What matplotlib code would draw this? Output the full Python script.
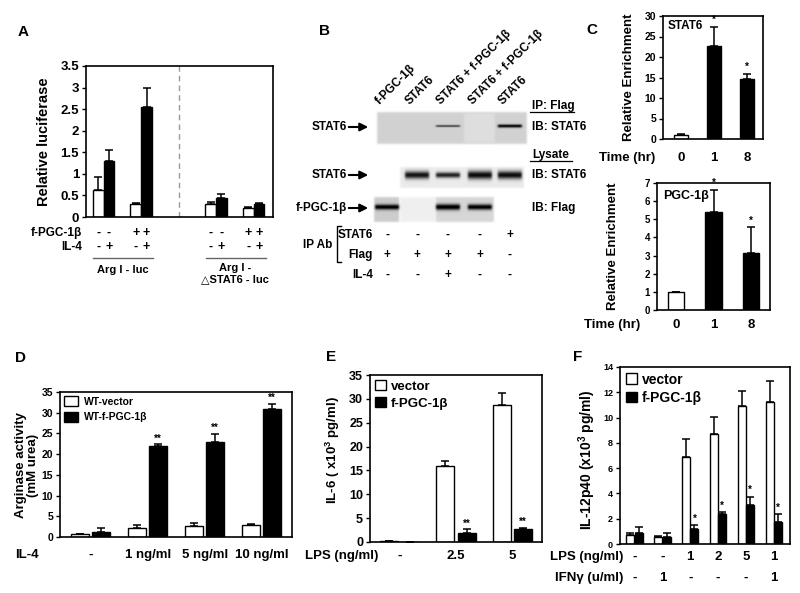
import numpy as np
import matplotlib
matplotlib.use('Agg')
import matplotlib.pyplot as plt
from matplotlib.patches import Patch
from matplotlib.transforms import blended_transform_factory as blend

plt.rcParams['font.family'] = ['Liberation Sans', 'DejaVu Sans']
plt.rcParams['font.weight'] = 'bold'
plt.rcParams['axes.linewidth'] = 1.2
plt.rcParams['mathtext.fontset'] = 'custom'
plt.rcParams['mathtext.rm'] = 'Liberation Sans:bold'
plt.rcParams['mathtext.default'] = 'rm'

W, H = 800, 593

# ---------------- data ----------------
# A: luciferase
a_pos = [0, 1, 3, 4]
a_white = [0.63, 0.31, 0.31, 0.21]
a_white_err = [0.30, 0.02, 0.04, 0.02]
a_black = [1.30, 2.55, 0.43, 0.30]
a_black_err = [0.26, 0.43, 0.11, 0.02]
a_pgc_signs = ['-', '-', '+', '+', '-', '-', '+', '+']
a_il4_signs = ['-', '+', '-', '+', '-', '+', '-', '+']
a_yticks = [0, 0.5, 1, 1.5, 2, 2.5, 3, 3.5]
a_yticklabels = ['0', '0.5', '1', '1.5', '2', '2.5', '3', '3.5']

# B: co-IP blots
b_lanes = ['f-PGC-1β', 'STAT6', 'STAT6 + f-PGC-1β', 'STAT6 + f-PGC-1β', 'STAT6']
b_ipab_stat6 = ['-', '-', '-', '-', '+']
b_ipab_flag = ['+', '+', '+', '+', '-']
b_il4 = ['-', '-', '+', '-', '-']
# (lane, darkness, thickness)
ip_bands = [(2, 0.60, 1.0), (4, 0.85, 1.6)]
lysate_bands = [(1, 0.85, 3.8), (2, 0.80, 2.8), (3, 0.88, 4.2), (4, 0.88, 4.0)]
flag_bands = [(0, 0.85, 2.6), (2, 0.90, 3.0), (3, 0.88, 2.8)]

# C: ChIP
c_time = ['0', '1', '8']
c_stat6 = [1.0, 22.8, 14.6]
c_stat6_err = [0.2, 4.6, 1.2]
c_pgc = [1.0, 5.38, 3.13]
c_pgc_err = [0.0, 1.25, 1.42]
c_colors = ['white', 'black', 'black']

# D: arginase
d_labels = ['-', '1 ng/ml', '5 ng/ml', '10 ng/ml']
d_vector = [0.64, 2.25, 2.57, 2.98]
d_vector_err = [0.1, 0.55, 0.8, 0.2]
d_pgc = [1.13, 21.96, 22.9, 31.0]
d_pgc_err = [1.1, 0.4, 2.0, 1.2]
d_stars = ['', '**', '**', '**']

# E: IL-6
e_labels = ['-', '2.5', '5']
e_vector = [0.2, 15.96, 28.7]
e_vector_err = [0.0, 1.05, 2.6]
e_pgc = [0.0, 1.96, 2.8]
e_pgc_err = [0.0, 0.7, 0.2]
e_stars = ['', '**', '**']

# F: IL-12p40
f_lps = ['-', '-', '1', '2', '5', '1']
f_ifn = ['-', '1', '-', '-', '-', '1']
f_vector = [0.71, 0.58, 6.92, 8.72, 10.93, 11.2]
f_vector_err = [0.14, 0.05, 1.4, 1.3, 1.15, 1.7]
f_pgc = [0.85, 0.58, 1.16, 2.4, 3.09, 1.77]
f_pgc_err = [0.5, 0.32, 0.35, 0.1, 0.66, 0.6]
f_stars = ['', '', '*', '*', '*', '*']

# ---------------- figure ----------------
fig = plt.figure(figsize=(W / 100, H / 100), dpi=100)
ov = fig.add_axes([0, 0, 1, 1], zorder=5)
ov.axis('off')
ov.set_autoscale_on(False)


def px_axes(x0, y0, x1, y1):
    return fig.add_axes([x0 / W, 1 - y1 / H, (x1 - x0) / W, (y1 - y0) / H])


def bars(ax, x, vals, errs, color, width):
    ax.bar(x, vals, width, color=color, edgecolor='black', linewidth=1.0, zorder=2)
    ax.errorbar(x, vals, yerr=[np.zeros(len(vals)), errs], fmt='none', ecolor='black',
                elinewidth=1.1, capsize=3.2, capthick=1.1, zorder=1)


def style(ax, size):
    ax.set_xticks([])
    ax.tick_params(axis='y', direction='out', length=3, width=1, pad=2, labelsize=size)
    for s in ax.spines.values():
        s.set_color('black')


def panel_letter(x, y, t):
    ov.text(x, y, t, fontsize=11, ha='left', va='center')


# ---- A ----
axA = px_axes(86, 66, 273, 217)
wA = 0.29
xw = [p - wA / 2 for p in a_pos]
xb = [p + wA / 2 for p in a_pos]
bars(axA, xw, a_white, a_white_err, 'white', wA)
bars(axA, xb, a_black, a_black_err, 'black', wA)
axA.axvline(2, color='#999999', ls=(0, (4, 3)), lw=1)
axA.set_xlim(-0.47, 4.52)
axA.set_ylim(0, 3.5)
axA.set_yticks(a_yticks, a_yticklabels)
style(axA, 9.5)
trA = blend(axA.transData, ov.transData)
bar_x = [v for pair in zip(xw, xb) for v in pair]
for x, s1, s2 in zip(bar_x, a_pgc_signs, a_il4_signs):
    ov.text(x, 233, s1, transform=trA, ha='center', va='center', fontsize=9)
    ov.text(x, 247, s2, transform=trA, ha='center', va='center', fontsize=9)
ov.text(82, 233, 'f-PGC-1β', ha='right', va='center', fontsize=8.5)
ov.text(82, 247, 'IL-4', ha='right', va='center', fontsize=8.5)
ov.plot([-0.28, 1.32], [258, 258], transform=trA, color='#666666', lw=1)
ov.plot([2.72, 4.32], [258, 258], transform=trA, color='#666666', lw=1)
ov.text(0.5, 270, 'Arg I - luc', transform=trA, ha='center', va='center', fontsize=8)
ov.text(3.5, 263, 'Arg I -\n△STAT6 - luc', transform=trA, ha='center', va='top',
        fontsize=8, linespacing=1.2)
ov.text(44, 142, 'Relative luciferase', rotation=90, ha='center', va='center', fontsize=10.5)
panel_letter(18, 32, 'A')

# ---- B ----
panel_letter(319, 31, 'B')
lane_x = [387, 417, 448, 480, 510]
for x, t in zip(lane_x, b_lanes):
    ov.text(x - 5, 107, t, rotation=45, rotation_mode='anchor', ha='left', va='bottom',
            fontsize=8.5)


def blot(x0, x1, y0, y1, backgrounds, bands, yc):
    res = 3
    xs = np.linspace(x0, x1, int((x1 - x0) * res))
    ys = np.linspace(y0, y1, int((y1 - y0) * res))
    X, Y = np.meshgrid(xs, ys)
    img = np.ones_like(X)
    for bx0, bx1, by0, by1, lev in backgrounds:
        m = (0.25 * (np.tanh(X - bx0) - np.tanh(X - bx1)) * (np.tanh(Y - by0) - np.tanh(Y - by1)))
        img = lev * m + img * (1 - m)
    for lane, dark, thick in bands:
        xc = lane_x[lane]
        px = 0.5 * (np.tanh((X - (xc - 12)) / 1.2) - np.tanh((X - (xc + 12)) / 1.2))
        py = np.exp(-((Y - yc) / thick) ** 2)
        img -= dark * px * py
    ov.imshow(np.clip(img, 0, 1), cmap='gray', vmin=0, vmax=1, extent=(x0, x1, y1, y0),
              aspect='auto', interpolation='bilinear', zorder=1)


blot(374, 530, 110, 146, [(377, 527, 112, 144, 0.82), (464, 495, 113, 143, 0.87)], ip_bands, 126)
blot(374, 530, 164, 190, [(400, 524, 167, 188, 0.92)], lysate_bands, 175)
blot(370, 500, 194, 225, [(374, 399, 197, 222, 0.8), (400, 436, 197, 222, 0.94),
                          (436, 494, 197, 222, 0.84)], flag_bands, 207)

for y, t in [(127, 'STAT6'), (175, 'STAT6'), (208, 'f-PGC-1β')]:
    ov.text(347, y, t, ha='right', va='center', fontsize=8.5)
    ov.annotate('', xy=(371, y), xytext=(346, y),
                arrowprops=dict(arrowstyle='-|>', lw=1.5, color='black', mutation_scale=12))

ov.text(532, 106, 'IP: Flag', ha='left', va='center', fontsize=8.5)
ov.plot([530, 574], [112, 112], color='black', lw=0.9)
ov.text(532, 127, 'IB: STAT6', ha='left', va='center', fontsize=8.5)
ov.text(532, 155, 'Lysate', ha='left', va='center', fontsize=8.5)
ov.plot([530, 572], [161, 161], color='black', lw=0.9)
ov.text(532, 175, 'IB: STAT6', ha='left', va='center', fontsize=8.5)
ov.text(532, 208, 'IB: Flag', ha='left', va='center', fontsize=8.5)

for x, s1, s2, s3 in zip(lane_x, b_ipab_stat6, b_ipab_flag, b_il4):
    ov.text(x, 235, s1, ha='center', va='center', fontsize=8.5)
    ov.text(x, 255, s2, ha='center', va='center', fontsize=8.5)
    ov.text(x, 275, s3, ha='center', va='center', fontsize=8.5)
ov.text(373, 235, 'STAT6', ha='right', va='center', fontsize=8.5)
ov.text(373, 255, 'Flag', ha='right', va='center', fontsize=8.5)
ov.text(373, 275, 'IL-4', ha='right', va='center', fontsize=8.5)
ov.text(318, 245, 'IP Ab', ha='center', va='center', fontsize=8.5)
ov.plot([341, 337, 337, 341], [226, 226, 262, 262], color='black', lw=1)

# ---- C ----
panel_letter(586, 30, 'C')
axC1 = px_axes(663, 16, 763, 139)
bars(axC1, [0, 1, 2], c_stat6, c_stat6_err, c_colors, 0.42)
axC1.set_xlim(-0.55, 2.48)
axC1.set_ylim(0, 30)
axC1.set_yticks(range(0, 31, 5))
style(axC1, 7.5)
axC1.text(0.05, 0.92, 'STAT6', transform=axC1.transAxes, fontsize=8.5, ha='left', va='center')
for i in [1, 2]:
    axC1.text(i, c_stat6[i] + c_stat6_err[i] + 0.5, '*', ha='center', va='bottom', fontsize=7)
trC1 = blend(axC1.transData, ov.transData)
for i, t in enumerate(c_time):
    ov.text(i, 158, t, transform=trC1, ha='center', va='center', fontsize=9.5)
ov.text(655, 158, 'Time (hr)', ha='right', va='center', fontsize=9.5)
ov.text(629, 77, 'Relative Enrichment', rotation=90, ha='center', va='center', fontsize=9.5)

axC2 = px_axes(657, 183, 770, 310)
bars(axC2, [0, 1, 2], c_pgc, c_pgc_err, c_colors, 0.43)
axC2.set_xlim(-0.51, 2.51)
axC2.set_ylim(0, 7)
axC2.set_yticks(range(0, 8))
style(axC2, 7)
axC2.text(0.05, 0.9, 'PGC-1β', transform=axC2.transAxes, fontsize=9, ha='left', va='center')
for i in [1, 2]:
    axC2.text(i, c_pgc[i] + c_pgc_err[i] + 0.1, '*', ha='center', va='bottom', fontsize=7)
trC2 = blend(axC2.transData, ov.transData)
for i, t in enumerate(c_time):
    ov.text(i, 325, t, transform=trC2, ha='center', va='center', fontsize=9.5)
ov.text(640, 325, 'Time (hr)', ha='right', va='center', fontsize=9.5)
ov.text(613, 246, 'Relative Enrichment', rotation=90, ha='center', va='center', fontsize=9.5)

# ---- D ----
panel_letter(15, 358, 'D')
axD = px_axes(60, 392, 292, 537)
xD = np.arange(len(d_labels))
bars(axD, xD - 0.19, d_vector, d_vector_err, 'white', 0.32)
bars(axD, xD + 0.18, d_pgc, d_pgc_err, 'black', 0.32)
for i, s in enumerate(d_stars):
    if s:
        axD.text(i + 0.18, d_pgc[i] + d_pgc_err[i] + 0.2, s, ha='center', va='bottom', fontsize=7)
axD.set_xlim(-0.54, 3.53)
axD.set_ylim(0, 35)
axD.set_yticks(range(0, 36, 5))
style(axD, 7.5)
axD.legend([Patch(facecolor='white', edgecolor='black'), Patch(facecolor='black', edgecolor='black')],
           ['WT-vector', 'WT-f-PGC-1β'], loc='upper left', frameon=False, fontsize=7.5,
           handlelength=1.3, handleheight=1.1, handletextpad=0.6, labelspacing=0.5,
           borderaxespad=0.2, borderpad=0.2)
trD = blend(axD.transData, ov.transData)
for i, t in enumerate(d_labels):
    ov.text(i, 555, t, transform=trD, ha='center', va='center', fontsize=9.5)
ov.text(15, 555, 'IL-4', ha='left', va='center', fontsize=9.5)
ov.text(27, 465, 'Arginase activity\n(mM urea)', rotation=90, ha='center', va='center',
        fontsize=9.5, multialignment='center', linespacing=1.1)

# ---- E ----
panel_letter(326, 357, 'E')
axE = px_axes(370, 375, 542, 542)
xE = np.arange(len(e_labels))
bars(axE, xE - 0.19, e_vector, e_vector_err, 'white', 0.32)
bars(axE, xE + 0.19, e_pgc, e_pgc_err, 'black', 0.32)
for i, s in enumerate(e_stars):
    if s:
        axE.text(i + 0.19, e_pgc[i] + e_pgc_err[i] + 0.2, s, ha='center', va='bottom', fontsize=7)
axE.set_xlim(-0.53, 2.53)
axE.set_ylim(0, 35)
axE.set_yticks(range(0, 36, 5))
style(axE, 9)
axE.legend([Patch(facecolor='white', edgecolor='black'), Patch(facecolor='black', edgecolor='black')],
           ['vector', 'f-PGC-1β'], loc='upper left', frameon=False, fontsize=9.5,
           handlelength=0.8, handleheight=0.8, handletextpad=0.4, labelspacing=0.3,
           borderaxespad=0.2, borderpad=0.2)
trE = blend(axE.transData, ov.transData)
for i, t in enumerate(e_labels):
    ov.text(i, 556, t, transform=trE, ha='center', va='center', fontsize=9.5)
ov.text(305, 556, 'LPS (ng/ml)', ha='left', va='center', fontsize=9.5)
ov.text(333, 450, 'IL-6 ( x10$^{3}$ pg/ml)', rotation=90, ha='center', va='center', fontsize=9.5)

# ---- F ----
panel_letter(573, 357, 'F')
axF = px_axes(620, 367, 790, 544)
xF = np.arange(len(f_lps))
bars(axF, xF - 0.15, f_vector, f_vector_err, 'white', 0.29)
bars(axF, xF + 0.15, f_pgc, f_pgc_err, 'black', 0.29)
for i, s in enumerate(f_stars):
    if s:
        axF.text(i + 0.15, f_pgc[i] + f_pgc_err[i] + 0.1, s, ha='center', va='bottom', fontsize=7)
axF.set_xlim(-0.52, 5.58)
axF.set_ylim(0, 14)
axF.set_yticks(range(0, 15, 2))
style(axF, 6.5)
axF.legend([Patch(facecolor='white', edgecolor='black'), Patch(facecolor='black', edgecolor='black')],
           ['vector', 'f-PGC-1β'], loc='upper left', frameon=False, fontsize=10,
           handlelength=0.8, handleheight=0.8, handletextpad=0.4, labelspacing=0.3,
           borderaxespad=0.1, borderpad=0.3)
trF = blend(axF.transData, ov.transData)
for i, (s1, s2) in enumerate(zip(f_lps, f_ifn)):
    ov.text(i, 557, s1, transform=trF, ha='center', va='center', fontsize=9.5)
    ov.text(i, 578, s2, transform=trF, ha='center', va='center', fontsize=9.5)
ov.text(623, 557, 'LPS (ng/ml)', ha='right', va='center', fontsize=9.5)
ov.text(623, 578, 'IFNγ (u/ml)', ha='right', va='center', fontsize=9.5)
ov.text(587, 460, 'IL-12p40 (x10$^{3}$ pg/ml)', rotation=90, ha='center', va='center', fontsize=10)

ov.set_xlim(0, W)
ov.set_ylim(H, 0)
fig.savefig('out.png', dpi=100)
